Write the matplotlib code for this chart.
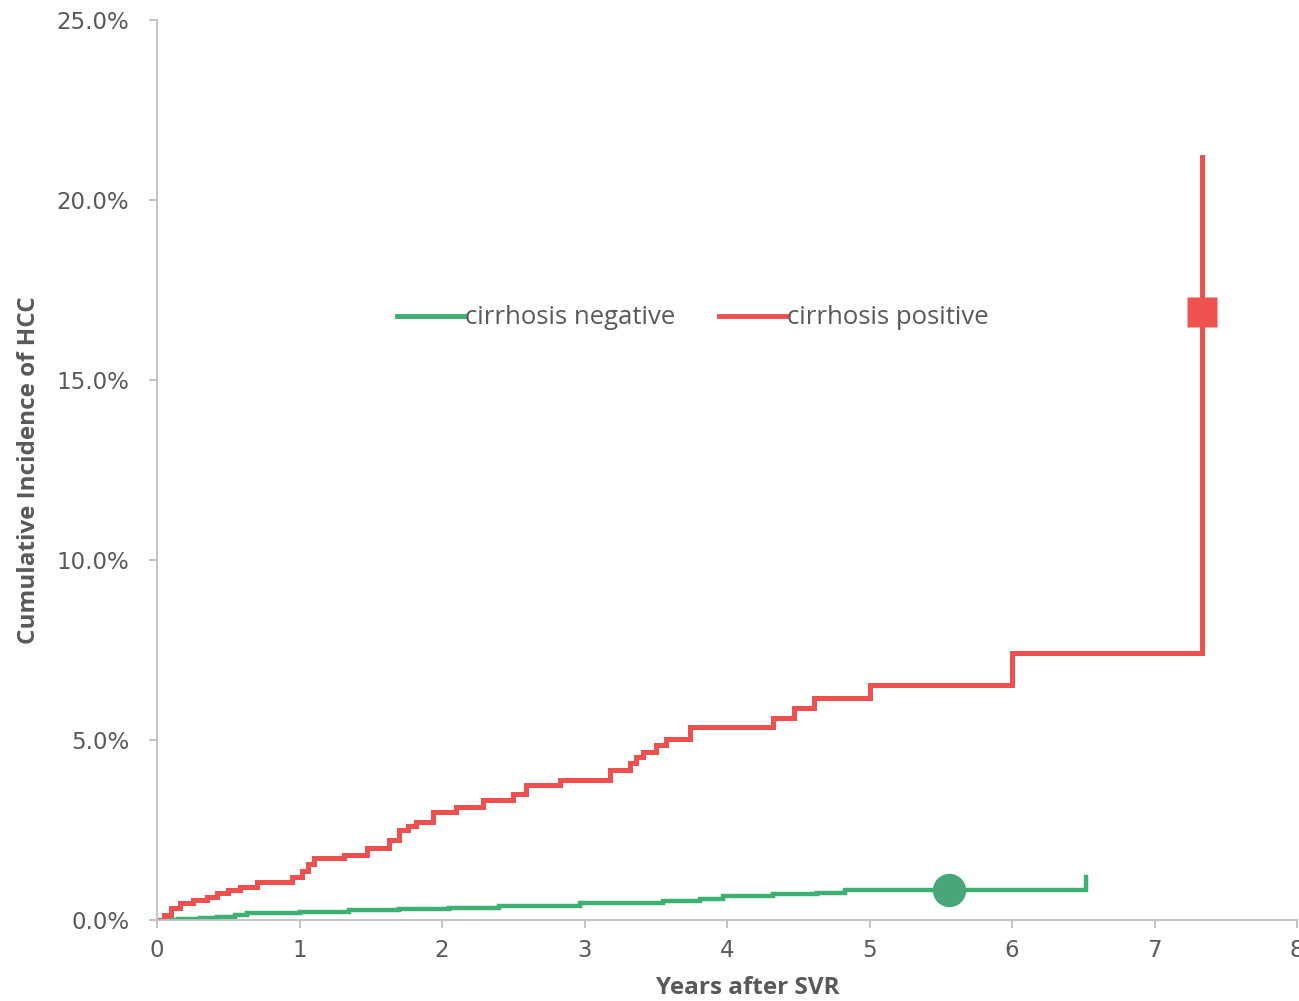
import matplotlib
matplotlib.use("Agg")
import matplotlib.pyplot as plt
from matplotlib.lines import Line2D
from matplotlib.ticker import FuncFormatter

# cumulative incidence (%), step-post
pos_years = [0, 0.05, 0.10, 0.16, 0.25, 0.35, 0.42, 0.50, 0.58, 0.70, 0.95, 1.02,
             1.06, 1.10, 1.31, 1.47, 1.63, 1.70, 1.76, 1.82, 1.94, 2.10, 2.29, 2.50,
             2.59, 2.83, 3.18, 3.32, 3.36, 3.41, 3.50, 3.57, 3.74, 4.32, 4.47, 4.61,
             5.00, 6.00, 7.33]
pos_inc = [0, 0.15, 0.32, 0.47, 0.56, 0.65, 0.75, 0.82, 0.92, 1.06, 1.20, 1.37,
           1.55, 1.72, 1.80, 2.00, 2.22, 2.50, 2.62, 2.73, 3.00, 3.14, 3.33, 3.50,
           3.75, 3.90, 4.17, 4.36, 4.53, 4.67, 4.86, 5.03, 5.36, 5.60, 5.89, 6.17,
           6.53, 7.42, 21.2]

neg_years = [0, 0.15, 0.30, 0.42, 0.55, 0.63, 1.00, 1.35, 1.70, 2.05, 2.40, 2.97,
             3.30, 3.55, 3.81, 3.97, 4.32, 4.63, 4.83, 6.52]
neg_inc = [0, 0.02, 0.05, 0.08, 0.14, 0.19, 0.23, 0.28, 0.30, 0.33, 0.40, 0.46,
           0.48, 0.52, 0.58, 0.67, 0.72, 0.76, 0.83, 1.20]

# censoring-style markers
neg_mark = (5.56, 0.83)
pos_mark = (7.33, 16.9)

labels = ["cirrhosis negative", "cirrhosis positive"]

red = "#EE4F4F"
green = "#3DB072"
grey = "#595959"

fig = plt.figure(figsize=(12.99, 10.01), dpi=100)
ax = fig.add_axes([0.1209, 0.0809, 0.8776, 0.8991])

ax.plot(neg_years, neg_inc, drawstyle="steps-post", color=green, lw=3.2,
        solid_joinstyle="miter")
ax.plot(pos_years, pos_inc, drawstyle="steps-post", color=red, lw=3.6,
        solid_joinstyle="miter")
ax.plot(*neg_mark, marker="o", ms=24, color="#48A678", mec="none")
ax.plot(*pos_mark, marker="s", ms=22, color="#EE5350", mec="none")

ax.set_xlim(0, 8)
ax.set_ylim(0, 25)
ax.set_xticks(range(0, 9))
ax.set_yticks([0, 5, 10, 15, 20, 25])
ax.yaxis.set_major_formatter(FuncFormatter(lambda v, p: f"{v:.1f}%"))

for s in ["top", "right"]:
    ax.spines[s].set_visible(False)
for s in ["left", "bottom"]:
    ax.spines[s].set_color("#BFBFBF")
    ax.spines[s].set_linewidth(1.3)
ax.tick_params(axis="both", colors="#BFBFBF", labelcolor=grey, labelsize=16.5,
               length=6, width=1.3)
ax.tick_params(axis="y", pad=14)
ax.tick_params(axis="x", pad=8)

ax.set_ylabel("Cumulative Incidence of HCC", fontsize=17.5, fontweight="bold",
              color=grey, family=["Open Sans", "DejaVu Sans"])
ax.yaxis.set_label_coords(-0.102, 0.5)
ax.set_xlabel("Years after SVR", fontsize=17.5, fontweight="bold", color=grey,
              family=["Open Sans", "DejaVu Sans"])
ax.xaxis.set_label_coords(0.518, -0.062)

handles = [Line2D([], [], color=green, lw=3.5), Line2D([], [], color=red, lw=3.5)]
fig.legend(handles, labels, loc="center", bbox_to_anchor=(693 / 1299, 1 - 318 / 1001),
           ncol=2, frameon=False, handlelength=2.6, handletextpad=0.05,
           columnspacing=1.7, prop={"family": "Open Sans", "size": 18.5},
           labelcolor=grey)

fig.savefig("out.png", dpi=100)
